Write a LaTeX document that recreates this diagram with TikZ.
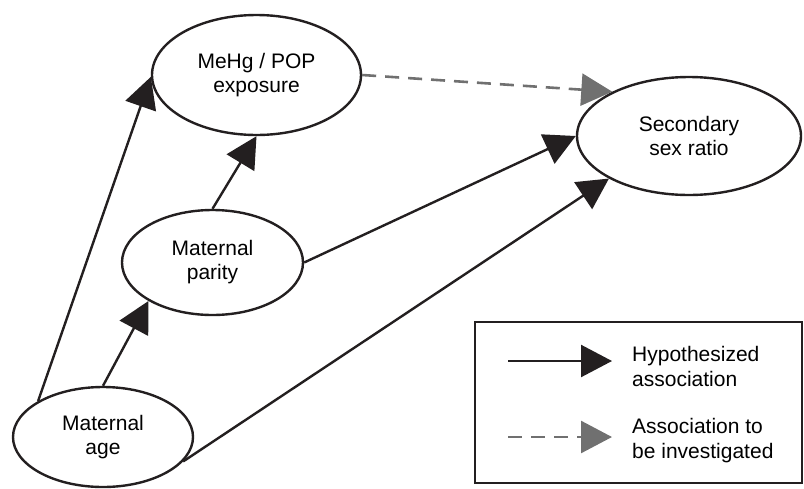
\documentclass[tikz,border=0pt]{standalone}
\usepackage{fontspec}
\setmainfont{Liberation Sans}
\usetikzlibrary{shapes.geometric,arrows.meta}
\definecolor{ink}{RGB}{35,31,32}
\definecolor{dashgray}{RGB}{112,112,112}
\tikzset{
  oval/.style={ellipse, draw=ink, line width=2.4pt, inner sep=0pt, align=center,
    font=\fontsize{21}{24}\selectfont},
  hyp/.style={draw=ink, line width=2.4pt, -{Triangle[length=31pt,width=32pt]}},
  inv/.style={draw=dashgray, line width=2.6pt, dash pattern=on 14pt off 9pt,
    -{Triangle[length=31pt,width=32pt,fill=dashgray]}},
  legtext/.style={anchor=west, align=left, inner sep=0pt,
    font=\fontsize{21}{25}\selectfont},
}
\begin{document}
\begin{tikzpicture}[x=1pt,y=-1pt]
\useasboundingbox (0,0) rectangle (804,488);
\node[oval, minimum width=209pt, minimum height=120pt] (mehg) at (256.5,75) {MeHg / POP\\exposure};
\node[oval, minimum width=224pt, minimum height=118pt] (ssr) at (689,136) {Secondary\\sex ratio};
\node[oval, minimum width=181pt, minimum height=105pt] (parity) at (212.5,262.5) {Maternal\\parity};
\node[oval, minimum width=180pt, minimum height=100pt] (age) at (103,437) {Maternal\\age};

\draw[hyp] (age.151) -- (mehg.181);
\draw[hyp] (parity.north) -- (mehg.south);
\draw[hyp] (age.north) -- (parity.211);
\draw[hyp] (parity.east) -- (ssr.west);
\draw[hyp] (age.-17) -- (ssr.208.6);
\draw[inv] (mehg.east) -- (ssr.150.8);

\node[draw=ink, line width=2.4pt, minimum width=327pt, minimum height=161pt, inner sep=0pt] (legend) at (638.5,402.5) {};
\coordinate (l1a) at (508,361);
\coordinate (l1b) at (612,361);
\coordinate (l2a) at (508,437);
\coordinate (l2b) at (612,437);
\draw[hyp] (l1a) -- (l1b);
\draw[inv] (l2a) -- (l2b);
\node[legtext] (t1) at (632,366) {Hypothesized\\association};
\node[legtext] (t2) at (632,441) {Association to\\be investigated};
\end{tikzpicture}
\end{document}
